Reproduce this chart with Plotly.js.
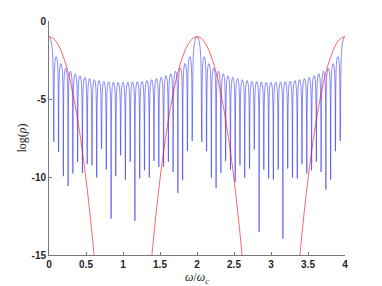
<!DOCTYPE html>
<html>
<head>
<meta charset="utf-8">
<script src="https://cdn.plot.ly/plotly-3.0.1.min.js"></script>
<style>html,body{margin:0;padding:0;background:#fff;}#chart{width:382px;height:286px;}</style>
</head>
<body>
<div id="chart"></div>
<script>
// Discrete spectrum (blue): x positions of dips, shoulders and lobe tops
var blueX = [
0.000,0.016,0.032,0.048,
0.065,0.081,0.097,0.113, 0.129,0.145,0.161,0.177, 0.194,0.210,0.226,0.242, 0.258,0.274,0.290,0.306,
0.323,0.339,0.355,0.371, 0.387,0.403,0.419,0.435, 0.452,0.468,0.484,0.500, 0.516,0.532,0.548,0.564,
0.581,0.597,0.613,0.629, 0.645,0.661,0.677,0.693, 0.710,0.726,0.742,0.758, 0.774,0.790,0.806,0.823,
0.839,0.855,0.871,0.887, 0.903,0.919,0.935,0.952, 0.968,0.984,1.000,1.016, 1.032,1.048,1.065,1.081,
1.097,1.113,1.129,1.145, 1.161,1.177,1.194,1.210, 1.226,1.242,1.258,1.274, 1.290,1.306,1.323,1.339,
1.355,1.371,1.387,1.403, 1.419,1.435,1.452,1.468, 1.484,1.500,1.516,1.532, 1.548,1.565,1.581,1.597,
1.613,1.629,1.645,1.661, 1.677,1.694,1.710,1.726, 1.742,1.758,1.774,1.790, 1.806,1.823,1.839,1.855,
1.871,1.887,1.903,1.919, 1.935,1.952,1.968,1.984,
2.000,2.016,2.032,2.048,
2.065,2.081,2.097,2.113, 2.129,2.145,2.161,2.177, 2.194,2.210,2.226,2.242, 2.258,2.274,2.290,2.306,
2.323,2.339,2.355,2.371, 2.387,2.403,2.419,2.435, 2.452,2.468,2.484,2.500, 2.516,2.532,2.548,2.564,
2.581,2.597,2.613,2.629, 2.645,2.661,2.677,2.693, 2.710,2.726,2.742,2.758, 2.774,2.790,2.806,2.823,
2.839,2.855,2.871,2.887, 2.903,2.919,2.935,2.952, 2.968,2.984,3.000,3.016, 3.032,3.048,3.065,3.081,
3.097,3.113,3.129,3.145, 3.161,3.177,3.194,3.210, 3.226,3.242,3.258,3.274, 3.290,3.306,3.323,3.339,
3.355,3.371,3.387,3.403, 3.419,3.435,3.452,3.468, 3.484,3.500,3.516,3.532, 3.548,3.565,3.581,3.597,
3.613,3.629,3.645,3.661, 3.677,3.694,3.710,3.726, 3.742,3.758,3.774,3.790, 3.806,3.823,3.839,3.855,
3.871,3.887,3.903,3.919, 3.935,3.952,3.968,3.984, 4.000
];
var blueY = [
-1.00,-1.09,-1.39,-2.04,
-7.75,-2.59,-2.29,-2.59, -8.39,-3.03,-2.73,-3.03, -9.95,-3.31,-3.01,-3.31, -10.58,-3.52,-3.22,-3.52,
-9.78,-3.68,-3.38,-3.68, -9.03,-3.81,-3.51,-3.81, -9.74,-3.91,-3.61,-3.91, -9.18,-3.99,-3.69,-3.99,
-9.25,-4.06,-3.76,-4.06, -10.04,-4.12,-3.82,-4.12, -8.18,-4.16,-3.86,-4.16, -9.53,-4.19,-3.89,-4.19,
-12.67,-4.21,-3.91,-4.21, -9.95,-4.23,-3.93,-4.23, -8.61,-4.23,-3.93,-4.23, -10.17,-4.23,-3.93,-4.23,
-9.03,-4.21,-3.91,-4.21, -12.82,-4.19,-3.89,-4.19, -10.10,-4.16,-3.86,-4.16, -9.57,-4.12,-3.82,-4.12,
-10.04,-4.06,-3.76,-4.06, -8.97,-3.99,-3.69,-3.99, -9.36,-3.91,-3.61,-3.91, -9.36,-3.81,-3.51,-3.81,
-9.03,-3.68,-3.38,-3.68, -9.68,-3.52,-3.22,-3.52, -11.02,-3.31,-3.01,-3.31, -10.21,-3.03,-2.73,-3.03,
-8.33,-2.59,-2.29,-2.59, -7.69,-2.04,-1.39,-1.09,
-1.00,-1.09,-1.39,-2.04,
-7.75,-2.59,-2.29,-2.59, -8.35,-3.03,-2.73,-3.03, -10.04,-3.31,-3.01,-3.31, -10.70,-3.52,-3.22,-3.52,
-9.74,-3.68,-3.38,-3.68, -8.99,-3.81,-3.51,-3.81, -9.53,-3.91,-3.61,-3.91, -10.32,-3.99,-3.69,-3.99,
-9.25,-4.06,-3.76,-4.06, -10.04,-4.12,-3.82,-4.12, -9.46,-4.16,-3.86,-4.16, -8.24,-4.19,-3.89,-4.19,
-13.53,-4.21,-3.91,-4.21, -9.53,-4.23,-3.93,-4.23, -10.10,-4.23,-3.93,-4.23, -10.17,-4.23,-3.93,-4.23,
-9.53,-4.21,-3.91,-4.21, -13.96,-4.19,-3.89,-4.19, -9.46,-4.16,-3.86,-4.16, -10.04,-4.12,-3.82,-4.12,
-10.10,-4.06,-3.76,-4.06, -9.18,-3.99,-3.69,-3.99, -9.78,-3.91,-3.61,-3.91, -9.57,-3.81,-3.51,-3.81,
-9.03,-3.68,-3.38,-3.68, -9.68,-3.52,-3.22,-3.52, -10.81,-3.31,-3.01,-3.31, -10.17,-3.03,-2.73,-3.03,
-8.35,-2.59,-2.29,-2.59, -7.69,-2.04,-1.39,-1.09, -1.00
];
// Continuous envelope (red)
var redX = [
0.00,0.05,0.10,0.15,0.20,0.25,0.30,0.35,0.40,0.45,0.50,0.55,0.60,0.65, null,
1.35,1.40,1.45,1.50,1.55,1.60,1.65,1.70,1.75,1.80,1.85,1.90,1.95,2.00,
2.05,2.10,2.15,2.20,2.25,2.30,2.35,2.40,2.45,2.50,2.55,2.60,2.65, null,
3.35,3.40,3.45,3.50,3.55,3.60,3.65,3.70,3.75,3.80,3.85,3.90,3.95,4.00
];
var redY = [
-1.00,-1.09,-1.34,-1.77,-2.38,-3.16,-4.14,-5.32,-6.70,-8.30,-10.13,-12.20,-14.54,-17.15, null,
-17.15,-14.54,-12.20,-10.13,-8.30,-6.70,-5.32,-4.14,-3.16,-2.38,-1.77,-1.34,-1.09,-1.00,
-1.09,-1.34,-1.77,-2.38,-3.16,-4.14,-5.32,-6.70,-8.30,-10.13,-12.20,-14.54,-17.15, null,
-17.15,-14.54,-12.20,-10.13,-8.30,-6.70,-5.32,-4.14,-3.16,-2.38,-1.77,-1.34,-1.09,-1.00
];
var xTickVals = [0,0.5,1,1.5,2,2.5,3,3.5,4];
var xTickText = ['0','0.5','1','1.5','2','2.5','3','3.5','4'];
var yTickVals = [-15,-10,-5,0];
var yTickText = ['-15','-10','-5','0'];

var axisColor = 'rgb(120,120,120)';
var tickFont = {family:'Liberation Sans, Arial, sans-serif', size:10, color:'#262626', weight:'bold'};

var data = [
  {x: blueX, y: blueY, type:'scatter', mode:'lines',
   line:{color:'rgb(20,20,240)', width:0.5, shape:'spline', smoothing:1}, hoverinfo:'skip'},
  {x: redX, y: redY, type:'scatter', mode:'lines', connectgaps:false,
   line:{color:'rgb(255,0,0)', width:0.6, shape:'spline', smoothing:1}, hoverinfo:'skip'}
];
var layout = {
  width:382, height:286,
  margin:{l:49, r:37, t:21, b:31, pad:0},
  paper_bgcolor:'#fff', plot_bgcolor:'#fff',
  showlegend:false,
  xaxis:{range:[0,4], tickvals:xTickVals, ticktext:xTickText, ticks:'inside', ticklen:3,
    tickcolor:axisColor, showline:true, linecolor:axisColor, linewidth:1, showgrid:false, zeroline:false,
    tickfont:tickFont, automargin:false,
    title:{text:'<i>ω</i>/<i>ω</i><sub><i>c</i></sub>', font:{family:'Liberation Serif, DejaVu Serif, serif', size:12, color:'#262626'}, standoff:5}},
  yaxis:{range:[-15,0], tickvals:yTickVals, ticktext:yTickText, ticks:'inside', ticklen:3,
    tickcolor:axisColor, showline:true, linecolor:axisColor, linewidth:1, showgrid:false, zeroline:false,
    tickfont:tickFont, automargin:false,
    title:{text:'log(<i>ρ</i>)', font:{family:'Liberation Serif, DejaVu Serif, serif', size:12, color:'#262626'}, standoff:2}}
};
Plotly.newPlot('chart', data, layout, {staticPlot:true, displayModeBar:false});
</script>
</body>
</html>
